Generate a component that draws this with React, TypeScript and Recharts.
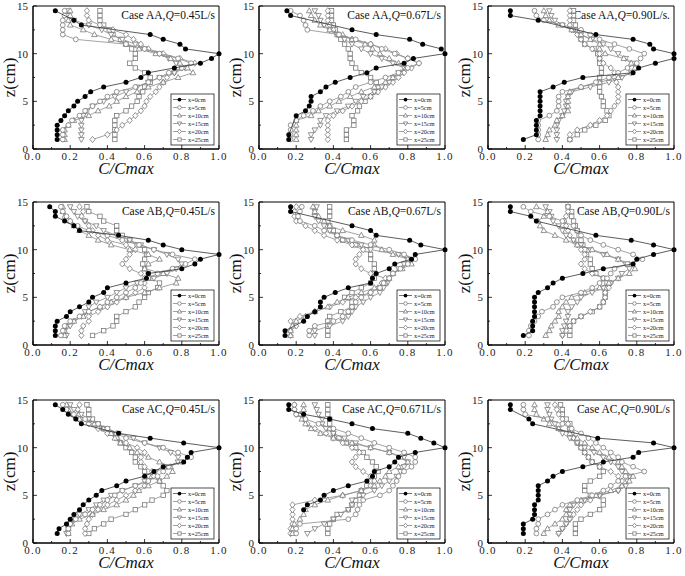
import React from 'react'
import { ScatterChart, Scatter, XAxis, YAxis, ReferenceArea } from 'recharts'

const SERIF = 'Liberation Serif, Times New Roman, DejaVu Serif, serif'

// z positions (cm) of the sampling points, bottom to top
const Z_LEVELS = [1, 1.5, 2, 2.5, 3, 3.5, 4, 4.5, 5, 5.5, 6, 6.5, 7, 7.5, 8, 8.5, 9, 9.5, 10, 10.5, 11, 11.5, 12, 12.5, 13, 13.5, 14, 14.5]
const X_TICKS = [0, 0.1, 0.2, 0.3, 0.4, 0.5, 0.6, 0.7, 0.8, 0.9, 1]
const Y_TICKS = [0, 2.5, 5, 7.5, 10, 12.5, 15]
const SERIES_NAMES = ['x=0cm', 'x=5cm', 'x=10cm', 'x=15cm', 'x=20cm', 'x=25cm']

// C/Cmax per series (x=0,5,10,15,20,25cm), one value per z level, null = no sample
const AA_045 = [
  [0.13, 0.13, 0.13, 0.13, 0.15, 0.17, 0.19, 0.22, 0.24, 0.28, 0.31, 0.38, 0.5, 0.58, 0.62, 0.76, 0.9, 0.96, 1.0, 0.82, 0.79, 0.7, 0.63, null, 0.26, 0.22, null, 0.12],
  [0.16, 0.16, 0.16, 0.19, 0.21, 0.25, 0.28, 0.32, 0.36, 0.4, 0.45, 0.55, 0.62, 0.68, 0.73, 0.8, 0.85, 0.78, 0.68, 0.6, 0.5, 0.23, 0.16, 0.16, 0.16, 0.16, 0.17, 0.17],
  [0.17, 0.17, 0.17, 0.19, 0.22, 0.3, 0.35, 0.41, 0.45, 0.5, 0.56, 0.62, 0.7, 0.78, 0.86, 0.83, 0.79, 0.74, 0.66, 0.57, 0.5, 0.42, 0.33, 0.27, 0.2, 0.19, 0.2, 0.2],
  [0.26, 0.26, 0.26, 0.26, 0.26, 0.27, 0.29, 0.32, 0.38, 0.44, 0.5, 0.56, 0.62, 0.68, 0.76, 0.8, 0.77, 0.73, 0.68, 0.6, 0.55, 0.48, 0.42, 0.37, 0.3, 0.22, 0.19, 0.19],
  [0.32, 0.4, 0.45, 0.48, 0.52, 0.55, 0.58, 0.6, 0.61, 0.63, 0.66, 0.68, 0.7, 0.72, 0.76, 0.82, 0.87, 0.79, 0.7, 0.62, 0.58, 0.54, 0.5, 0.43, 0.36, 0.3, 0.29, 0.29],
  [0.44, 0.44, 0.44, 0.44, 0.44, 0.45, 0.5, 0.53, 0.56, 0.57, 0.59, 0.6, 0.63, 0.63, 0.6, 0.55, 0.52, 0.55, 0.55, 0.53, 0.5, 0.47, 0.43, 0.41, 0.38, 0.36, 0.36, 0.36],
]
const AA_067 = [
  [0.16, 0.16, null, null, null, 0.2, 0.25, 0.27, 0.28, 0.28, 0.33, 0.36, 0.41, 0.49, 0.58, 0.63, 0.78, 0.83, 1.0, 0.98, 0.88, 0.81, 0.63, 0.5, null, null, 0.17, 0.15],
  [0.17, 0.17, 0.17, 0.17, 0.2, 0.24, 0.29, 0.33, 0.38, 0.44, 0.48, 0.52, 0.6, 0.68, 0.75, 0.8, 0.86, 0.8, 0.73, 0.66, 0.6, 0.52, 0.43, 0.26, 0.25, 0.24, 0.22, 0.17],
  [0.2, 0.2, 0.2, 0.2, 0.2, 0.28, 0.32, 0.38, 0.43, 0.49, 0.55, 0.62, 0.68, 0.72, 0.76, 0.79, 0.75, 0.7, 0.65, 0.61, 0.57, 0.5, 0.45, 0.38, 0.33, 0.3, 0.28, 0.27],
  [0.28, 0.28, 0.3, 0.33, 0.33, 0.36, 0.42, 0.48, 0.52, 0.56, 0.62, 0.66, 0.7, 0.72, 0.75, 0.78, 0.72, 0.66, 0.6, 0.55, 0.5, 0.46, 0.42, 0.38, 0.35, 0.33, 0.32, 0.3],
  [0.37, 0.37, 0.37, 0.37, 0.37, 0.4, 0.45, 0.5, 0.55, 0.6, 0.64, 0.68, 0.72, 0.75, 0.78, 0.82, 0.86, 0.8, 0.74, 0.68, 0.6, 0.5, 0.43, 0.4, 0.38, 0.37, 0.37, 0.37],
  [0.47, 0.47, 0.47, 0.51, 0.51, 0.5, 0.53, 0.54, 0.57, 0.6, 0.63, 0.64, 0.63, 0.6, 0.55, 0.52, 0.5, 0.49, 0.49, 0.48, 0.46, 0.44, 0.42, 0.41, 0.4, 0.39, 0.39, 0.39],
]
const AA_090 = [
  [0.19, 0.26, 0.26, 0.26, 0.26, 0.28, 0.28, 0.28, 0.28, 0.28, 0.28, 0.35, 0.41, 0.51, 0.78, 0.81, 0.9, 1.0, 1.0, 0.89, 0.87, 0.78, 0.58, null, null, 0.27, 0.12, 0.12],
  [0.27, 0.27, 0.27, 0.27, 0.27, 0.33, 0.37, 0.38, 0.38, 0.38, 0.4, 0.5, 0.58, 0.65, 0.7, 0.75, 0.8, 0.82, 0.84, 0.76, 0.68, 0.6, 0.55, 0.5, 0.4, 0.3, 0.26, 0.25],
  [0.31, 0.32, 0.33, 0.36, 0.37, 0.4, 0.43, 0.43, 0.43, 0.43, 0.44, 0.5, 0.6, 0.7, 0.77, 0.79, 0.77, 0.73, 0.63, 0.6, 0.6, 0.55, 0.5, 0.45, 0.38, 0.33, 0.31, 0.3],
  [0.37, 0.37, 0.37, 0.37, 0.38, 0.4, 0.41, 0.42, 0.42, 0.43, 0.45, 0.55, 0.65, 0.72, 0.77, 0.8, 0.78, 0.74, 0.7, 0.66, 0.62, 0.56, 0.5, 0.45, 0.4, 0.36, 0.34, 0.33],
  [0.44, 0.44, 0.48, 0.55, 0.6, 0.64, 0.66, 0.68, 0.7, 0.7, 0.7, 0.7, 0.69, 0.68, 0.68, 0.66, 0.62, 0.6, 0.6, 0.56, 0.52, 0.5, 0.48, 0.46, 0.44, 0.44, 0.44, 0.44],
  [0.44, 0.48, 0.52, 0.58, 0.63, 0.65, 0.64, 0.62, 0.62, 0.61, 0.6, 0.6, 0.6, 0.6, 0.61, 0.61, 0.6, 0.6, 0.59, 0.57, 0.52, 0.5, 0.49, 0.47, 0.47, 0.46, 0.46, 0.46],
]
const AB_045 = [
  [0.12, 0.12, 0.12, 0.13, 0.18, 0.2, 0.25, 0.3, 0.32, 0.38, 0.4, 0.5, 0.61, 0.62, 0.8, 0.87, 0.9, 1.0, 0.8, 0.7, 0.62, 0.46, 0.25, 0.22, 0.17, 0.12, 0.12, 0.09],
  [0.15, 0.16, 0.17, 0.2, 0.25, 0.3, 0.36, 0.4, 0.45, 0.5, 0.55, 0.58, 0.62, 0.67, 0.75, 0.82, 0.87, 0.75, 0.65, 0.57, 0.48, 0.4, 0.3, 0.24, 0.2, 0.18, 0.16, 0.15],
  [0.17, 0.17, 0.18, 0.22, 0.27, 0.3, 0.36, 0.42, 0.5, 0.6, 0.68, 0.77, 0.78, 0.7, 0.6, 0.62, 0.68, 0.62, 0.52, 0.42, 0.35, 0.3, 0.25, 0.22, 0.2, 0.17, 0.16, 0.16],
  [0.18, 0.17, 0.2, 0.22, 0.26, 0.28, 0.3, 0.34, 0.4, 0.45, 0.5, 0.56, 0.65, 0.72, 0.77, 0.8, 0.78, 0.72, 0.65, 0.58, 0.52, 0.45, 0.38, 0.34, 0.28, 0.24, 0.22, 0.2],
  [0.26, 0.26, 0.27, 0.3, 0.3, 0.35, 0.4, 0.45, 0.5, 0.55, 0.6, 0.6, 0.6, 0.58, 0.52, 0.48, 0.5, 0.52, 0.55, 0.5, 0.4, 0.35, 0.32, 0.3, 0.28, 0.26, 0.27, 0.25],
  [0.32, 0.38, 0.43, 0.45, 0.45, 0.5, 0.55, 0.57, 0.6, 0.62, 0.67, 0.68, 0.64, 0.62, 0.6, 0.59, 0.6, 0.61, 0.6, 0.56, 0.52, 0.48, 0.45, 0.45, 0.38, 0.36, 0.3, 0.29],
]
const AB_067 = [
  [0.14, 0.14, null, 0.24, 0.26, 0.3, 0.33, 0.33, 0.35, 0.41, 0.48, 0.6, 0.61, 0.63, 0.7, 0.73, 0.82, 0.84, 1.0, 0.87, 0.81, 0.63, 0.6, 0.5, null, null, 0.17, 0.17],
  [0.27, 0.27, 0.3, 0.4, 0.45, 0.48, 0.5, 0.52, 0.55, 0.6, 0.65, 0.67, 0.7, 0.72, 0.76, 0.8, 0.84, 0.78, 0.7, 0.6, 0.5, 0.42, 0.35, 0.3, 0.22, 0.21, 0.22, 0.23],
  [0.17, 0.17, 0.18, 0.2, 0.25, 0.3, 0.37, 0.42, 0.48, 0.55, 0.62, 0.68, 0.7, 0.72, 0.77, 0.82, 0.8, 0.72, 0.66, 0.62, 0.62, 0.55, 0.45, 0.38, 0.35, 0.32, 0.3, 0.29],
  [0.3, 0.3, 0.38, 0.45, 0.48, 0.5, 0.52, 0.56, 0.6, 0.65, 0.67, 0.69, 0.7, 0.72, 0.75, 0.78, 0.8, 0.75, 0.6, 0.55, 0.48, 0.42, 0.38, 0.35, 0.32, 0.3, 0.3, 0.31],
  [0.17, 0.17, 0.2, 0.17, 0.22, 0.3, 0.38, 0.45, 0.52, 0.6, 0.64, 0.66, 0.68, 0.6, 0.55, 0.52, 0.52, 0.54, 0.56, 0.5, 0.42, 0.35, 0.3, 0.25, 0.2, 0.19, 0.19, 0.2],
  [0.37, 0.37, 0.37, 0.37, 0.38, 0.44, 0.5, 0.5, 0.46, 0.5, 0.55, 0.6, 0.62, 0.62, 0.62, 0.62, 0.6, 0.6, 0.58, 0.52, 0.45, 0.42, 0.4, 0.38, 0.37, 0.38, 0.38, 0.38],
]
const AB_090 = [
  [0.19, 0.24, 0.24, 0.24, 0.25, 0.25, 0.25, 0.25, 0.25, 0.27, 0.32, 0.35, 0.4, 0.51, 0.62, 0.78, 0.8, 0.89, 1.0, 0.89, 0.77, 0.58, null, null, 0.26, 0.23, 0.12, 0.12],
  [0.22, 0.22, 0.23, 0.25, 0.27, 0.29, 0.35, 0.37, 0.4, 0.5, 0.56, 0.6, 0.64, 0.66, 0.68, 0.75, 0.83, 0.78, 0.7, 0.62, 0.55, 0.5, 0.48, 0.46, 0.4, 0.33, 0.23, 0.19],
  [0.31, 0.33, 0.34, 0.36, 0.38, 0.38, 0.4, 0.42, 0.45, 0.52, 0.6, 0.65, 0.7, 0.76, 0.79, 0.76, 0.7, 0.64, 0.56, 0.48, 0.42, 0.36, 0.3, 0.28, 0.27, 0.3, 0.32, 0.26],
  [0.4, 0.4, 0.41, 0.42, 0.43, 0.43, 0.45, 0.48, 0.5, 0.56, 0.62, 0.66, 0.7, 0.72, 0.76, 0.74, 0.7, 0.62, 0.55, 0.5, 0.46, 0.42, 0.4, 0.38, 0.35, 0.34, 0.33, 0.31],
  [0.4, 0.42, 0.44, 0.46, 0.5, 0.55, 0.6, 0.62, 0.63, 0.63, 0.65, 0.66, 0.62, 0.56, 0.52, 0.5, 0.52, 0.52, 0.5, 0.48, 0.46, 0.44, 0.43, 0.42, 0.41, 0.42, 0.43, 0.43],
  [0.44, 0.44, 0.44, 0.46, 0.5, 0.56, 0.6, 0.62, 0.63, 0.63, 0.63, 0.64, 0.62, 0.58, 0.56, 0.55, 0.55, 0.53, 0.52, 0.51, 0.5, 0.49, 0.48, 0.47, 0.46, 0.45, 0.45, 0.43],
]
const AC_045 = [
  [0.13, 0.14, 0.18, 0.2, 0.22, 0.25, 0.27, 0.3, 0.34, 0.37, 0.45, 0.5, 0.6, 0.65, 0.7, 0.81, 0.83, 0.85, 1.0, 0.81, 0.63, 0.46, null, 0.26, 0.23, 0.19, 0.16, 0.12],
  [0.19, 0.19, 0.2, 0.23, 0.28, 0.32, 0.36, 0.4, 0.44, 0.48, 0.55, 0.62, 0.67, 0.7, 0.73, 0.8, 0.85, 0.78, 0.7, 0.6, 0.5, 0.45, 0.4, 0.35, 0.28, 0.22, 0.18, 0.16],
  [0.19, 0.19, 0.21, 0.25, 0.32, 0.38, 0.45, 0.5, 0.54, 0.57, 0.62, 0.68, 0.72, 0.75, 0.74, 0.68, 0.62, 0.56, 0.52, 0.47, 0.44, 0.42, 0.38, 0.33, 0.25, 0.22, 0.19, 0.18],
  [0.18, 0.19, 0.2, 0.22, 0.25, 0.3, 0.34, 0.38, 0.42, 0.48, 0.55, 0.6, 0.62, 0.66, 0.72, 0.78, 0.78, 0.74, 0.68, 0.6, 0.54, 0.46, 0.4, 0.34, 0.3, 0.26, 0.22, 0.2],
  [0.28, 0.28, 0.29, 0.3, 0.32, 0.35, 0.4, 0.45, 0.5, 0.55, 0.6, 0.62, 0.65, 0.64, 0.6, 0.58, 0.58, 0.6, 0.56, 0.5, 0.45, 0.4, 0.35, 0.3, 0.26, 0.25, 0.24, 0.25],
  [0.3, 0.33, 0.38, 0.42, 0.5, 0.55, 0.6, 0.64, 0.7, 0.72, 0.7, 0.68, 0.63, 0.6, 0.58, 0.55, 0.55, 0.53, 0.5, 0.47, 0.45, 0.42, 0.38, 0.35, 0.32, 0.3, 0.3, 0.29],
]
const AC_067 = [
  [null, null, null, null, null, 0.24, 0.26, 0.33, 0.35, 0.4, 0.48, 0.58, 0.61, 0.62, 0.7, 0.73, 0.75, 0.84, 1.0, 0.94, 0.87, 0.8, 0.61, 0.5, 0.38, 0.24, 0.16, 0.16],
  [0.2, 0.2, 0.22, 0.48, 0.52, 0.53, 0.54, 0.56, 0.65, 0.7, 0.72, 0.74, 0.75, 0.78, 0.82, 0.84, 0.84, 0.78, 0.7, 0.62, 0.55, 0.48, 0.4, 0.32, 0.25, 0.2, 0.19, 0.19],
  [0.18, 0.18, 0.19, 0.22, 0.24, 0.25, 0.3, 0.37, 0.45, 0.55, 0.62, 0.65, 0.68, 0.7, 0.75, 0.8, 0.76, 0.7, 0.6, 0.5, 0.4, 0.33, 0.28, 0.25, 0.23, 0.22, 0.24, 0.24],
  [0.26, 0.3, 0.35, 0.4, 0.44, 0.48, 0.5, 0.5, 0.56, 0.62, 0.66, 0.7, 0.74, 0.76, 0.78, 0.8, 0.78, 0.7, 0.6, 0.52, 0.46, 0.4, 0.36, 0.34, 0.34, 0.32, 0.31, 0.3],
  [0.17, 0.17, 0.18, 0.18, 0.18, 0.18, 0.18, 0.3, 0.45, 0.55, 0.6, 0.62, 0.6, 0.56, 0.52, 0.5, 0.52, 0.54, 0.5, 0.45, 0.4, 0.36, 0.3, 0.26, 0.24, 0.2, 0.19, 0.19],
  [0.37, 0.37, 0.38, 0.4, 0.42, 0.48, 0.5, 0.52, 0.54, 0.55, 0.58, 0.6, 0.62, 0.64, 0.63, 0.61, 0.58, 0.56, 0.52, 0.47, 0.43, 0.4, 0.38, 0.38, 0.38, 0.37, 0.37, 0.37],
]
const AC_090 = [
  [0.19, 0.19, 0.19, 0.24, 0.25, 0.25, 0.25, 0.27, 0.27, 0.27, 0.27, 0.32, 0.35, 0.4, 0.51, 0.62, 0.78, 0.81, 1.0, 0.89, 0.59, null, null, 0.24, 0.22, null, 0.12, 0.12],
  [0.26, 0.26, 0.27, 0.27, 0.32, 0.36, 0.4, 0.48, 0.56, 0.62, 0.66, 0.7, 0.74, 0.84, 0.78, 0.72, 0.7, 0.66, 0.62, 0.58, 0.54, 0.5, 0.45, 0.4, 0.32, 0.2, 0.19, 0.19],
  [0.3, 0.32, 0.36, 0.4, 0.42, 0.42, 0.44, 0.5, 0.58, 0.66, 0.72, 0.76, 0.78, 0.74, 0.72, 0.7, 0.65, 0.6, 0.56, 0.52, 0.48, 0.44, 0.38, 0.33, 0.3, 0.26, 0.25, 0.25],
  [0.38, 0.4, 0.42, 0.44, 0.44, 0.44, 0.46, 0.52, 0.6, 0.7, 0.74, 0.75, 0.76, 0.72, 0.7, 0.66, 0.62, 0.57, 0.52, 0.48, 0.44, 0.4, 0.38, 0.36, 0.34, 0.33, 0.32, 0.32],
  [0.38, 0.4, 0.42, 0.44, 0.46, 0.48, 0.5, 0.55, 0.6, 0.7, 0.72, 0.72, 0.7, 0.66, 0.6, 0.56, 0.54, 0.52, 0.5, 0.48, 0.46, 0.45, 0.44, 0.43, 0.4, 0.38, 0.37, 0.36],
  [0.47, 0.47, 0.47, 0.5, 0.55, 0.6, 0.62, 0.62, 0.55, 0.52, 0.52, 0.55, 0.6, 0.62, 0.6, 0.56, 0.54, 0.52, 0.5, 0.48, 0.46, 0.45, 0.44, 0.44, 0.42, 0.4, 0.4, 0.39],
]

const PANEL_DATA = [AA_045, AA_067, AA_090, AB_045, AB_067, AB_090, AC_045, AC_067, AC_090]
// title text before and after the italic Q
const PANEL_TITLES = [
  ['Case AA,', '=0.45L/s'], ['Case AA,', '=0.67L/s'], ['Case AA,', '=0.90L/s.'],
  ['Case AB,', '=0.45L/s'], ['Case AB,', '=0.67L/s'], ['Case AB,', '=0.90L/s'],
  ['Case AC,', '=0.45L/s'], ['Case AC,', '=0.671L/s'], ['Case AC,', '=0.90L/s'],
]

const PLOT_LEFT = [33, 259, 488]
const PLOT_TOP = [6, 202, 400]
const PLOT_W = 186
const PLOT_H = 143
const Y_AXIS_W = 33
const X_AXIS_H = 32
const TOP_PAD = 10

const GREY = '#7a7a7a'

function Marker({ cx, cy, kind, s = 1 }: { cx: number; cy: number; kind: number; s?: number }) {
  if (cx == null || cy == null) return null
  const common = { fill: '#fff', stroke: GREY, strokeWidth: 0.8 }
  switch (kind) {
    case 0:
      return <circle cx={cx} cy={cy} r={2.5 * s} fill="#000" />
    case 1:
      return <circle cx={cx} cy={cy} r={2.4 * s} {...common} />
    case 2:
      return <polygon points={`${cx},${cy - 3 * s} ${cx + 2.8 * s},${cy + 2 * s} ${cx - 2.8 * s},${cy + 2 * s}`} {...common} />
    case 3:
      return <polygon points={`${cx},${cy + 3 * s} ${cx + 2.8 * s},${cy - 2 * s} ${cx - 2.8 * s},${cy - 2 * s}`} {...common} />
    case 4:
      return <polygon points={`${cx},${cy - 3.1 * s} ${cx + 2.6 * s},${cy} ${cx},${cy + 3.1 * s} ${cx - 2.6 * s},${cy}`} {...common} />
    default:
      return <rect x={cx - 2.2 * s} y={cy - 2.2 * s} width={4.4 * s} height={4.4 * s} {...common} />
  }
}

function XTick({ x, y, payload }: any) {
  const v = payload.value as number
  const major = Math.round(v * 10) % 2 === 0
  const axisY = y - 2
  return (
    <g>
      <line x1={x} x2={x} y1={axisY} y2={axisY - (major ? 4 : 2)} stroke="#000" strokeWidth={0.8} />
      {major && (
        <text x={x} y={axisY + 11} textAnchor="middle" fontSize={11} fontFamily={SERIF} fill="#222" letterSpacing={1.2}>
          {v.toFixed(1)}
        </text>
      )}
    </g>
  )
}

function YTick({ x, y, payload }: any) {
  const v = payload.value as number
  const major = v % 5 === 0
  const axisX = x + 5
  return (
    <g>
      <line x1={axisX} x2={axisX + (major ? 4 : 2)} y1={y} y2={y} stroke="#000" strokeWidth={0.8} />
      {major && (
        <text x={x} y={y + 4} textAnchor="end" fontSize={11} fontFamily={SERIF} fill="#222">
          {v}
        </text>
      )}
    </g>
  )
}

function XTitle({ viewBox }: any) {
  const { x, y, width } = viewBox
  return (
    <text x={x + width / 2} y={y + 25} textAnchor="middle" fontSize={17} fontFamily={SERIF} fontStyle="italic" fill="#111">
      C/Cmax
    </text>
  )
}

function YTitle({ viewBox }: any) {
  const { x, y, height } = viewBox
  const cx = x + 10
  const cy = y + height / 2
  return (
    <text x={cx} y={cy} dy={5} textAnchor="middle" fontSize={17} fontFamily={SERIF} fill="#111" transform={`rotate(-90, ${cx}, ${cy})`}>
      z(cm)
    </text>
  )
}

function PanelDecor({ viewBox, title }: any) {
  const { x, y, width, height } = viewBox
  const right = x + width
  const bottom = y + height
  const bx = right - 48
  const by = bottom - 55
  return (
    <g fontFamily={SERIF}>
      <text x={right - 4} y={y + 13} textAnchor="end" fontSize={11.5} fill="#111">
        {title[0]}
        <tspan fontStyle="italic">Q</tspan>
        {title[1]}
      </text>
      <rect x={bx} y={by} width={43} height={51} fill="#fff" stroke="#000" strokeWidth={0.7} />
      {SERIES_NAMES.map((name, i) => {
        const ry = by + 5.5 + i * 8
        return (
          <g key={name}>
            <line x1={bx + 2} x2={bx + 15} y1={ry} y2={ry} stroke={i === 0 ? '#333' : GREY} strokeWidth={0.7} />
            <Marker cx={bx + 8.5} cy={ry} kind={i} s={0.75} />
            <text x={bx + 17} y={ry + 2.2} fontSize={6.3} fill="#222">
              {name}
            </text>
          </g>
        )
      })}
    </g>
  )
}

function Panel({ index }: { index: number }) {
  const row = Math.floor(index / 3)
  const col = index % 3
  const series = PANEL_DATA[index]
  const title = PANEL_TITLES[index]
  const width = Y_AXIS_W + PLOT_W + 8
  const height = TOP_PAD + PLOT_H + X_AXIS_H
  // draw x=0cm last so the filled dots sit on top
  const order = [5, 4, 3, 2, 1, 0]
  return (
    <div style={{ position: 'absolute', left: PLOT_LEFT[col] - Y_AXIS_W, top: PLOT_TOP[row] - TOP_PAD }}>
      <ScatterChart width={width} height={height} margin={{ top: TOP_PAD, right: 8, bottom: 0, left: 0 }}>
        <XAxis
          type="number"
          dataKey="c"
          domain={[0, 1]}
          ticks={X_TICKS}
          interval={0}
          tickSize={0}
          tickMargin={2}
          tickLine={false}
          tick={<XTick />}
          height={X_AXIS_H}
          axisLine={{ stroke: '#000' }}
          label={{ content: (p: any) => <XTitle viewBox={p.viewBox} /> }}
        />
        <YAxis
          type="number"
          dataKey="z"
          domain={[0, 15]}
          ticks={Y_TICKS}
          interval={0}
          tickSize={0}
          tickMargin={5}
          tickLine={false}
          tick={<YTick />}
          width={Y_AXIS_W}
          axisLine={{ stroke: '#000' }}
          label={{ content: (p: any) => <YTitle viewBox={p.viewBox} /> }}
        />
        {order.map((k) => {
          const pts = Z_LEVELS.map((z, i) => ({ c: series[k][i], z })).filter((p) => p.c != null)
          return (
            <Scatter
              key={k}
              name={SERIES_NAMES[k]}
              data={pts}
              line={{ stroke: k === 0 ? '#333' : '#8c8c8c', strokeWidth: 0.8 }}
              shape={(p: any) => <Marker cx={p.cx} cy={p.cy} kind={k} />}
              isAnimationActive={false}
            />
          )
        })}
        <ReferenceArea
          x1={0}
          x2={1}
          y1={0}
          y2={15}
          fill="none"
          fillOpacity={0}
          stroke="#000"
          strokeWidth={1}
          label={{ content: (props: any) => <PanelDecor viewBox={props.viewBox} title={title} /> }}
        />
      </ScatterChart>
    </div>
  )
}

export default function App() {
  return (
    <div style={{ position: 'absolute', left: 0, top: 0, width: 685, height: 576, background: '#fff', fontFamily: SERIF }}>
      {PANEL_DATA.map((_, i) => (
        <Panel key={i} index={i} />
      ))}
    </div>
  )
}
